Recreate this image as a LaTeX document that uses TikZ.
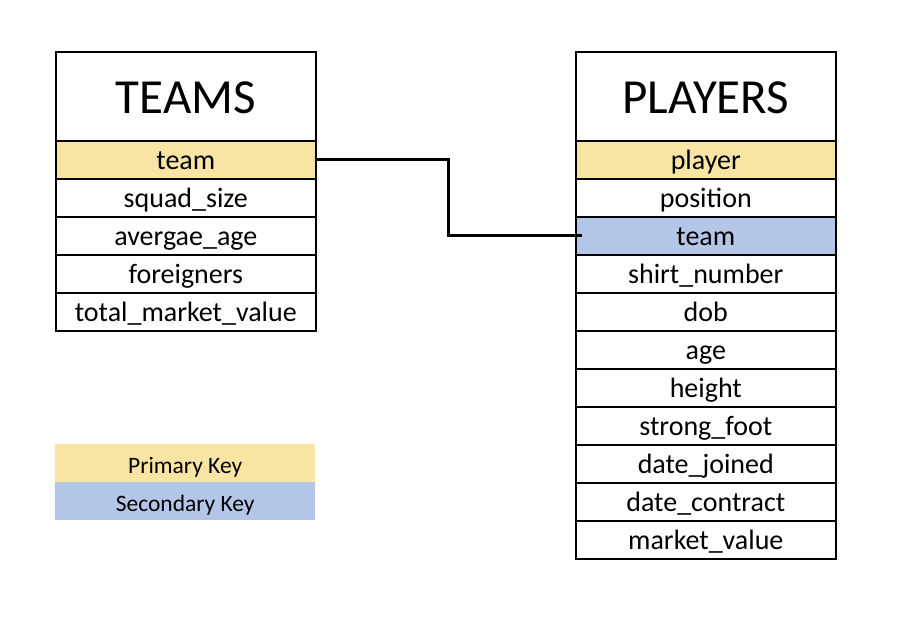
\documentclass[tikz,border=0pt]{standalone}
\usepackage{fontspec}
\setmainfont{Carlito}
\definecolor{pkcol}{HTML}{F9E5A3}
\definecolor{fkcol}{HTML}{B4C6E7}
\begin{document}
\begin{tikzpicture}[x=1pt,y=-1pt,
  cell/.style={draw, line width=1.6pt, minimum width=260pt, minimum height=38pt,
    inner sep=0pt, anchor=north west, text height=22pt, text depth=2pt,
    font=\fontsize{28}{28}\selectfont},
  headcell/.style={cell, minimum height=89pt, text height=40pt, text depth=5pt,
    font=\fontsize{49}{49}\selectfont},
  pkcell/.style={cell, fill=pkcol},
  fkcell/.style={cell, fill=fkcol},
  legcell/.style={minimum width=260pt, minimum height=38pt, inner sep=0pt,
    anchor=north west, text height=24pt, text depth=3pt,
    font=\fontsize{23.5}{23.5}\selectfont},
  link/.style={line width=2.7pt}]
\useasboundingbox[fill=white] (0,0) rectangle (906,618);
% TEAMS
\node[headcell] (th) at (55,51) {TEAMS};
\node[pkcell] (t1) at (55,140) {team};
\node[cell] (t2) at (55,178) {squad\_size};
\node[cell] (t3) at (55,216) {avergae\_age};
\node[cell] (t4) at (55,254) {foreigners};
\node[cell] (t5) at (55,292) {total\_market\_value};
% PLAYERS
\node[headcell] (ph) at (575,51) {PLAYERS};
\node[pkcell] (p1) at (575,140) {player};
\node[cell] (p2) at (575,178) {position};
\node[fkcell] (p3) at (575,216) {team};
\node[cell] (p4) at (575,254) {shirt\_number};
\node[cell] (p5) at (575,292) {dob};
\node[cell] (p6) at (575,330) {age};
\node[cell] (p7) at (575,368) {height};
\node[cell] (p8) at (575,406) {strong\_foot};
\node[cell] (p9) at (575,444) {date\_joined};
\node[cell] (p10) at (575,482) {date\_contract};
\node[cell] (p11) at (575,520) {market\_value};
% legend
\node[legcell, fill=pkcol] (lpk) at (55,444) {Primary Key};
\node[legcell, fill=fkcol] (lfk) at (55,482) {Secondary Key};
% connector
\draw[link] ([xshift=-2pt]t1.east) -- ++(134,0) |- ([xshift=7pt]p3.west);
\end{tikzpicture}
\end{document}
